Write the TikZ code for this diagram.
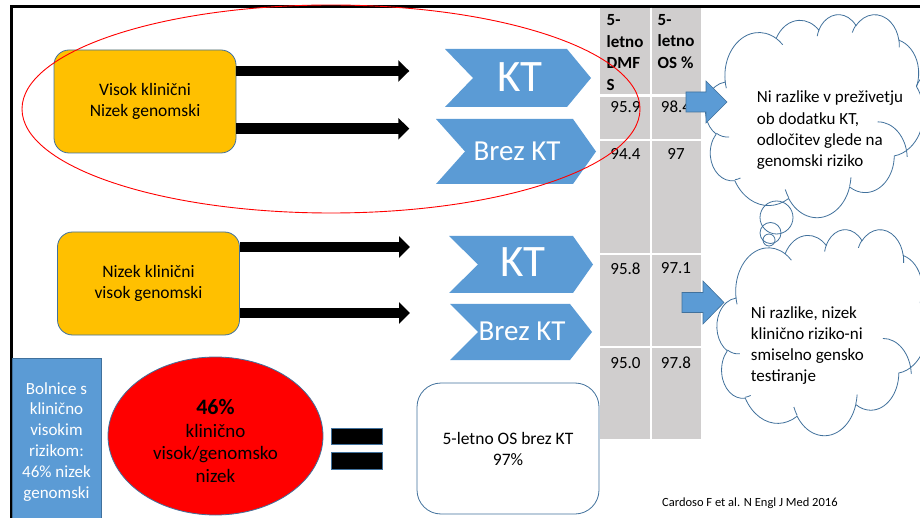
\documentclass[tikz,border=0pt]{standalone}
\usepackage{fontspec}
\setmainfont{Carlito}
\usetikzlibrary{arrows.meta,shapes.geometric}

\definecolor{boxgold}{RGB}{255,192,0}
\definecolor{edgeblue}{RGB}{65,113,156}
\definecolor{fillblue}{RGB}{91,155,213}
\definecolor{cellgray}{RGB}{208,206,206}

\newcommand\fsz[2]{\fontsize{#1pt}{#2pt}\selectfont}

% one arc of an OOXML-style cloud: radii, start angle and sweep (visual angles)
\newcommand\cloudarc[4]{arc[x radius=#1, y radius=#2,
  start angle={atan2(#1*sin(#3),#2*cos(#3))},
  delta angle={mod(atan2(#1*sin(#3+#4),#2*cos(#3+#4))-atan2(#1*sin(#3),#2*cos(#3))+720,360)}]}

% cloud outline drawn in a 432 x 432 box, placed at (#1,#2) with size #3 x #4
\newcommand\thinkcloud[4]{%
  \begin{scope}[shift={(#1,#2)},x={(#3pt/432,0pt)},y={(0pt,-#4pt/432)}]
    \filldraw[cloudedge,fill=white] (39.00,143.70)
      \cloudarc{67.53}{91.90}{-190.4875}{123.7805}
      \cloudarc{53.33}{72.67}{-144.1024}{89.9452}
      \cloudarc{43.65}{59.45}{-145.8079}{99.7230}
      \cloudarc{48.57}{65.95}{-130.9861}{117.2417}
      \cloudarc{53.33}{72.73}{-78.7089}{109.0269}
      \cloudarc{67.75}{92.20}{-46.2673}{130.2690}
      \cloudarc{57.85}{78.67}{0.6250}{114.0333}
      \cloudarc{67.52}{92.15}{22.4516}{115.1726}
      \cloudarc{77.20}{105.43}{66.2426}{75.7110}
      \cloudarc{43.60}{59.18}{-274.9421}{146.7356}
      \cloudarc{43.45}{59.45}{-246.8285}{152.5189}
      -- cycle;
    \draw[cloudedge]
      (46.93,261.77) \cloudarc{43.45}{59.45}{86.7420}{26.4295}
      (69.28,348.99) \cloudarc{43.60}{59.18}{73.6105}{11.4475}
      (164.78,390.90) \cloudarc{67.52}{92.15}{137.6242}{14.0811}
      (288.27,347.51) \cloudarc{67.52}{92.15}{6.4533}{15.9984}
      (341.29,229.54) \cloudarc{57.85}{78.67}{-90.4433}{86.3279}
      (417.98,153.54) \cloudarc{53.33}{72.73}{-144.2397}{30.4110}
      (383.24,54.26) \cloudarc{48.57}{65.95}{-13.7479}{20.0312}
      (290.78,39.52) \cloudarc{48.57}{65.95}{-149.1667}{18.1930}
      (221.41,47.20) \cloudarc{43.65}{59.45}{-163.4943}{17.6904}
      (140.00,51.92) \cloudarc{67.53}{91.90}{-66.7070}{12.3194}
      (41.27,157.89) \cloudarc{67.53}{91.90}{157.6544}{11.8582};
  \end{scope}}

\begin{document}
\begin{tikzpicture}[x=1pt,y=-1pt,
  frame/.style={line width=2.5pt,black},
  riskbox/.style={draw=edgeblue,line width=0.8pt,fill=boxgold,rounded corners=15pt,
    minimum width=182pt,minimum height=103pt,align=center,font=\fsz{17.5}{21.4}},
  fatarrow/.style={line width=10.5pt,-{Triangle[length=11pt,width=21pt]}},
  chevfill/.style={fill=fillblue},
  kttext/.style={text=white,inner sep=0pt,font=\fsz{45}{50}},
  breztext/.style={text=white,inner sep=0pt,font=\fsz{29}{32}},
  cell/.style={inner sep=0pt,font=\fsz{17}{21.5}},
  headcell/.style={inner sep=0pt,align=left,anchor=west,font=\fsz{17}{21.5}\bfseries},
  cloudedge/.style={draw=edgeblue,line width=0.8pt},
  cloudtext/.style={inner sep=0pt,align=left,anchor=west,font=\fsz{17}{21.2}},
  pointer/.style={fill=fillblue,draw=edgeblue,line width=0.6pt},
  plainedge/.style={draw=edgeblue,line width=0.8pt},
]
\useasboundingbox (0,0) rectangle (920,518);

% slide frame
\draw[frame] (10,6.3) -- (920,6.3);
\draw[frame] (11.3,5.05) -- (11.3,518);

% survival table
\fill[cellgray] (600,7.6) rectangle (701,439);
\draw[white,line width=2pt] (651,7.6) -- (651,439);
\draw[white,line width=3.5pt] (600,95.3) -- (702,95.3);
\foreach \yy in {140,254,347} \draw[white,line width=1.5pt] (600,\yy) -- (701,\yy);
\node[headcell] (h1) at (606.5,52.3) {5-\\letno\\DMF\\S};
\node[headcell] (h2) at (657.5,41.5) {5-\\letno\\OS \%};
\node[cell] (a1) at (625.5,106.7) {95.9};
\node[cell] (b1) at (676,106.7) {98.4};
\node[cell] (a2) at (625.5,154) {94.4};
\node[cell] (b2) at (676,154) {97};
\node[cell] (a3) at (625.5,268.3) {95.8};
\node[cell] (b3) at (676,268.3) {97.1};
\node[cell] (a4) at (625.5,362.7) {95.0};
\node[cell] (b4) at (676,362.7) {97.8};

% risk groups
\node[riskbox] (hk) at (145,101.5) {Visok klinični\\Nizek genomski};
\node[riskbox] (lk) at (148.5,283.5) {Nizek klinični\\visok genomski};

\coordinate (t1) at (409.3,71);
\coordinate (t2) at (409.3,128.7);
\coordinate (t3) at (410,247);
\coordinate (t4) at (410,313);
\draw[fatarrow] (hk.east |- t1) -- (t1);
\draw[fatarrow] (hk.east |- t2) -- (t2);
\draw[fatarrow] (lk.east |- t3) -- (t3);
\draw[fatarrow] (lk.east |- t4) -- (t4);

% treatment chevrons
\fill[chevfill] (445,49) -- (567,49) -- (591,78) -- (567,107) -- (445,107) -- (473,78) -- cycle;
\fill[chevfill] (436,119) -- (573,119) -- (596,151.5) -- (573,184) -- (436,184) -- (465,151.5) -- cycle;
\fill[chevfill] (449,236) -- (573,236) -- (593,264.5) -- (573,293) -- (449,293) -- (478,264.5) -- cycle;
\fill[chevfill] (450,304) -- (570,304) -- (592,332) -- (570,360) -- (450,360) -- (478,332) -- cycle;
\node[kttext] (kt1) at (520,77) {KT};
\node[breztext] (bz1) at (517,151) {Brez KT};
\node[kttext] (kt2) at (523,262) {KT};
\node[breztext] (bz2) at (522,331.5) {Brez KT};

% highlight of the first group
\draw[red,line width=0.9pt] (331,109) ellipse[x radius=309,y radius=104];

% conclusions
\thinkcloud{705.5}{14}{218}{203}
\thinkcloud{717}{229}{210}{206}
\node[cloudtext] (c1) at (756.7,130.3) {Ni razlike v preživetju\\ob dodatku KT,\\odločitev glede na\\genomski riziko};
\node[cloudtext] (c2) at (750.7,345.6) {Ni razlike, nizek\\klinično riziko-ni\\smiselno gensko\\testiranje};
\filldraw[pointer] (686,92) -- (706,92) -- (706,81) -- (727,102) -- (706,123) -- (706,112) -- (686,112) -- cycle;
\filldraw[pointer] (682,292.5) -- (703,292.5) -- (703,281) -- (724,302.5) -- (703,324) -- (703,312.5) -- (682,312.5) -- cycle;
\draw[cloudedge] (776.5,217.5) circle[radius=16.5];
\draw[cloudedge] (770.5,233) circle[radius=10.5];
\draw[cloudedge] (769,240) circle[radius=6];

% summary row
\draw[plainedge,fill=fillblue] (12.5,358) rectangle (101,525);
\node[text=white,align=center,font=\fsz{17}{20.8},inner sep=0pt] (hosp) at (56.5,441.7)
  {Bolnice s\\klinično\\visokim\\rizikom:\\46\% nizek\\genomski};
\node[ellipse,plainedge,fill=red,minimum width=215pt,minimum height=158pt,inner sep=0pt] (share) at (215.5,436) {};
\node[align=center,anchor=north,inner sep=0pt,font=\fsz{19}{22.5}] (sharetext) at (215.5,399.5)
  {{\bfseries\fsz{22}{22.5}46\%}\\klinično\\visok/genomsko\\nizek};
\node[plainedge,fill=black,minimum width=51pt,minimum height=16pt,inner sep=0pt] (eqtop) at (356.5,436) {};
\node[plainedge,fill=black,minimum width=51pt,minimum height=17pt,inner sep=0pt] (eqbot) at (356.5,460.5) {};
\node[plainedge,fill=white,rounded corners=24pt,minimum width=182pt,minimum height=131pt,
  align=center,font=\fsz{17.5}{21}] (os) at (508,448.5) {5-letno OS brez KT\\97\%};
\node[anchor=west,inner sep=0pt,font=\fsz{12.5}{15}] (cite) at (662,503) {Cardoso F et al. N Engl J Med 2016};
\end{tikzpicture}
\end{document}
